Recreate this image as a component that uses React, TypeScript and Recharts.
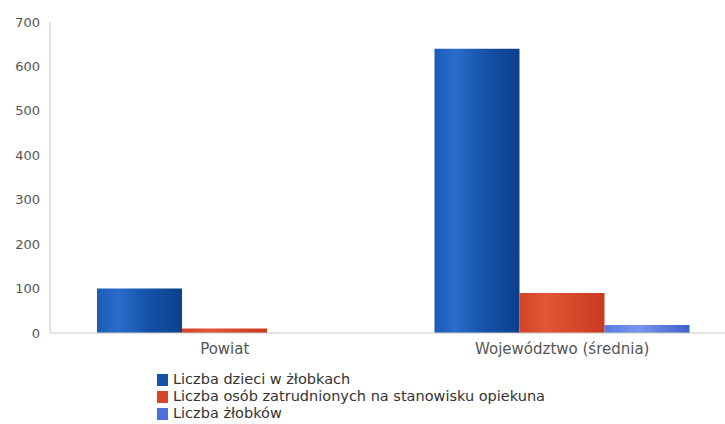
import React from 'react';
import { BarChart, Bar, XAxis, YAxis } from 'recharts';

const categories = ['Powiat', 'Województwo (średnia)'];
const dzieci = [100, 640];
const opiekunowie = [10, 90];
const zlobki = [0, 18];
const yTicks = [0, 100, 200, 300, 400, 500, 600, 700];

const series = [
  { key: 'dzieci', name: 'Liczba dzieci w żłobkach', grad: 'gBlue', color: '#1552a8' },
  { key: 'opiekunowie', name: 'Liczba osób zatrudnionych na stanowisku opiekuna', grad: 'gRed', color: '#d8462a' },
  { key: 'zlobki', name: 'Liczba żłobków', grad: 'gLight', color: '#4f6fdc' },
];

const data = categories.map((c, i) => ({
  name: c,
  dzieci: dzieci[i],
  opiekunowie: opiekunowie[i],
  zlobki: zlobki[i],
}));

const font = '"DejaVu Sans", Verdana, sans-serif';

function LegendBox() {
  return (
    <div style={{ position: 'absolute', left: 157, top: 371, fontFamily: font, fontSize: 14.5, color: '#333', lineHeight: '17px' }}>
      {series.map((s) => (
        <div key={s.key} style={{ display: 'flex', alignItems: 'center', height: 17 }}>
          <span style={{ display: 'inline-block', width: 11, height: 12, background: s.color, marginRight: 5 }} />
          {s.name}
        </div>
      ))}
    </div>
  );
}

export default function App() {
  return (
    <div style={{ position: 'absolute', left: 0, top: 0, width: 725, height: 424, background: '#fff' }}>
      <BarChart
        width={725}
        height={424}
        data={data}
        margin={{ top: 22, right: 0, left: 0, bottom: 61 }}
        barGap={0}
        barSize={85}
      >
        <defs>
          <linearGradient id="gBlue" x1="0" y1="0" x2="1" y2="0">
            <stop offset="0%" stopColor="#1a5cb8" />
            <stop offset="25%" stopColor="#2a6ccc" />
            <stop offset="60%" stopColor="#1552a8" />
            <stop offset="100%" stopColor="#0d3f8a" />
          </linearGradient>
          <linearGradient id="gRed" x1="0" y1="0" x2="1" y2="0">
            <stop offset="0%" stopColor="#d44326" />
            <stop offset="30%" stopColor="#e25635" />
            <stop offset="100%" stopColor="#c93a20" />
          </linearGradient>
          <linearGradient id="gLight" x1="0" y1="0" x2="1" y2="0">
            <stop offset="0%" stopColor="#5a7ae4" />
            <stop offset="40%" stopColor="#7a95ee" />
            <stop offset="100%" stopColor="#3f5fcc" />
          </linearGradient>
        </defs>
        <XAxis
          dataKey="name"
          height={30}
          axisLine={{ stroke: '#c8c8c8' }}
          tickLine={false}
          tick={{ fill: '#555', fontSize: 15, fontFamily: font }}
          tickMargin={4}
          padding={{ left: 6, right: -6 }}
        />
        <YAxis
          width={50}
          domain={[0, 700]}
          ticks={yTicks}
          axisLine={{ stroke: '#c8c8c8' }}
          tickLine={false}
          tick={{ fill: '#555', fontSize: 13, fontFamily: font }}
          tickMargin={4}
        />
        {series.map((s) => (
          <Bar key={s.key} dataKey={s.key} name={s.name} fill={`url(#${s.grad})`} isAnimationActive={false} />
        ))}
      </BarChart>
      <LegendBox />
    </div>
  );
}
